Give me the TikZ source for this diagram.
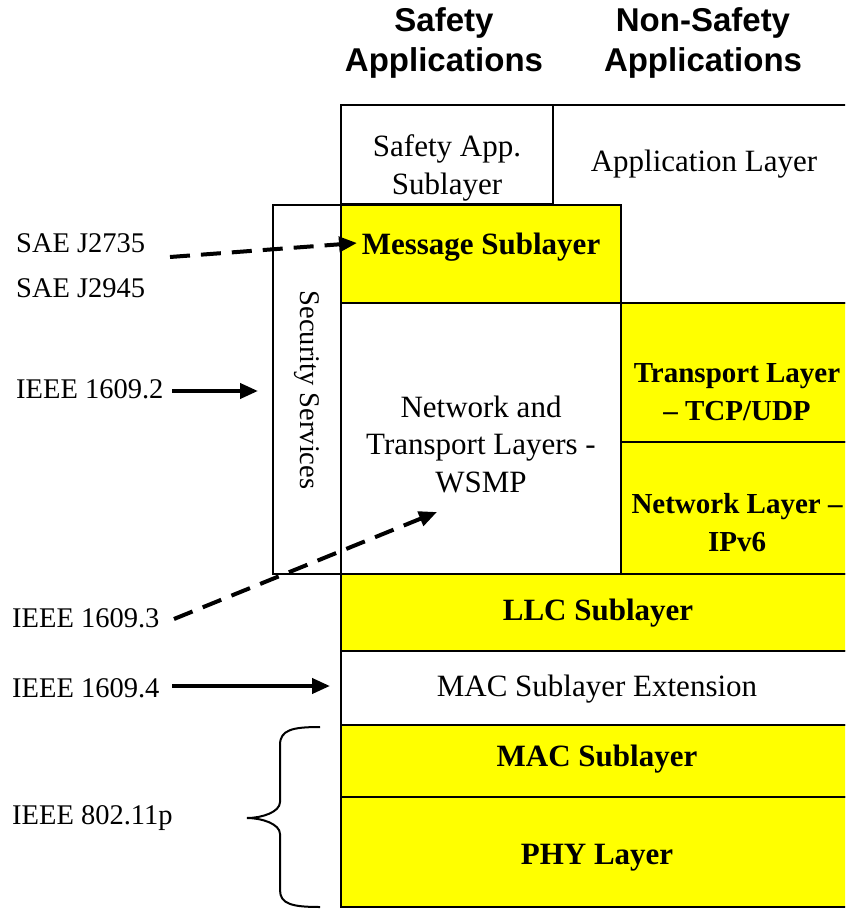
\documentclass[tikz,border=0pt]{standalone}
\usepackage{fontspec}
\setmainfont{Liberation Serif}
\newfontfamily\hdfont{Liberation Sans}
\usetikzlibrary{arrows.meta}
\definecolor{layeryellow}{RGB}{255,255,0}
\begin{document}
\begin{tikzpicture}[x=1pt,y=-1pt,
 layer/.style={draw=black, line width=2pt, inner sep=0pt, outer sep=0pt, anchor=north west},
 yel/.style={fill=layeryellow},
 wht/.style={fill=white},
 txt/.style={font=\fontsize{31}{37.5}\selectfont, align=center, inner sep=0pt},
 btxt/.style={font=\fontsize{31}{38}\selectfont\bfseries, align=center, inner sep=0pt},
 sbtxt/.style={font=\fontsize{29}{38}\selectfont\bfseries, align=center, inner sep=0pt},
 lbl/.style={font=\fontsize{28.5}{34}\selectfont, inner sep=0pt, anchor=west},
 hd/.style={font=\hdfont\bfseries\fontsize{33}{40}\selectfont, align=center, inner sep=0pt},
 solidarrow/.style={line width=4pt, -{Triangle[length=18pt,width=15pt]}},
 dasharrow/.style={solidarrow, dash pattern=on 20pt off 11pt},
 bracestyle/.style={line width=2pt},
]
\useasboundingbox (0,0) rectangle (845,909);
\begin{scope}
\clip (0,0) rectangle (845,909);
% boxes
\node[layer, wht, minimum width=300pt, minimum height=198pt] (app) at (553,105) {};
\node[layer, wht, minimum width=212pt, minimum height=99pt] (sapp) at (341,105) {};
\node[layer, yel, minimum width=280pt, minimum height=98pt] (msg) at (341,205) {};
\node[layer, wht, minimum width=68pt, minimum height=369pt] (sec) at (273,205) {};
\node[layer, wht, minimum width=280pt, minimum height=271pt] (nt) at (341,303) {};
\node[layer, yel, minimum width=232pt, minimum height=139pt] (tl) at (621,303) {};
\node[layer, yel, minimum width=232pt, minimum height=132pt] (nl) at (621,442) {};
\node[layer, yel, minimum width=512pt, minimum height=77pt] (llc) at (341,574) {};
\node[layer, wht, minimum width=512pt, minimum height=74pt] (macx) at (341,651) {};
\node[layer, yel, minimum width=512pt, minimum height=72pt] (mac) at (341,725) {};
\node[layer, yel, minimum width=512pt, minimum height=110pt] (phy) at (341,797) {};
% headers
\node[hd] (h1) at (444,43) {Safety\\Applications};
\node[hd] (h2) at (703,43) {Non-Safety\\Applications};
% box texts
\node[txt] (t-sapp) at (447,168) {Safety App.\\Sublayer};
\node[txt] (t-app) at (704,164) {Application Layer};
\node[btxt] (t-msg) at (481,247) {Message Sublayer};
\node[sbtxt] (t-tl) at (737,392) {Transport Layer\\– TCP/UDP};
\node[sbtxt] (t-nl) at (737,523) {Network Layer –\\IPv6};
\node[txt] (t-nt) at (481,444) {Network and\\Transport Layers -\\WSMP};
\node[btxt] (t-llc) at (598,613) {LLC Sublayer};
\node[txt] (t-macx) at (597,689) {MAC Sublayer Extension};
\node[btxt] (t-mac) at (597,759) {MAC Sublayer};
\node[btxt] (t-phy) at (597,858) {PHY Layer};
\node[font=\fontsize{28.5}{34}\selectfont, inner sep=0pt, rotate=-90] (t-sec) at (307,390) {Security Services};
% left labels
\node[lbl] (sae1) at (16,243) {SAE J2735};
\node[lbl] (sae2) at (16,288) {SAE J2945};
\node[lbl] (i2) at (16,389) {IEEE 1609.2};
\node[lbl] (i3) at (12,618) {IEEE 1609.3};
\node[lbl] (i4) at (12,688) {IEEE 1609.4};
\node[lbl] (i11) at (12,818) {IEEE 802.11p};
% connectors
\coordinate (saeS) at (170,257);
\coordinate (msgT) at (357,243);
\draw[dasharrow] (saeS) -- (msgT);
\coordinate (i2S) at (172,391);
\coordinate (i2T) at (258,391);
\draw[solidarrow] (i2S) -- (i2T);
\coordinate (i3S) at (174,619);
\coordinate (i3T) at (437,512);
\draw[dasharrow] (i3S) -- (i3T);
\coordinate (i4S) at (172,686);
\coordinate (i4T) at (330,686);
\draw[solidarrow] (i4S) -- (i4T);
% brace
\draw[bracestyle] (320,727) .. controls (292,727) and (280,730) .. (280,745) -- (280,802)
  .. controls (280,812) and (262,818) .. (247,818)
  .. controls (262,818) and (280,824) .. (280,834) -- (280,890)
  .. controls (280,904) and (292,907) .. (320,907);
\end{scope}
\end{tikzpicture}
\end{document}
